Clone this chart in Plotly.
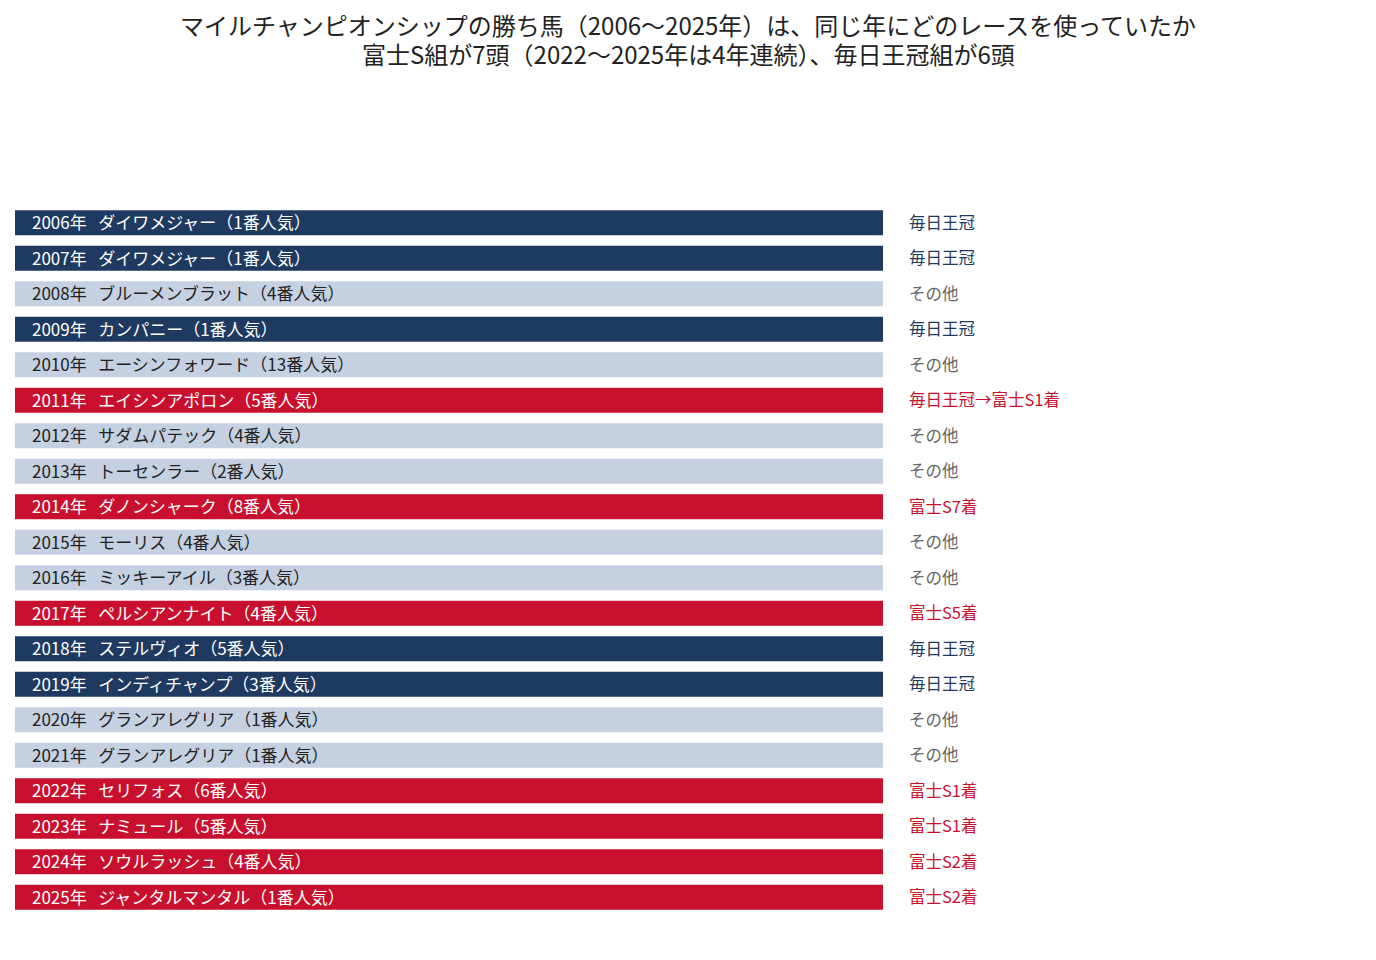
import plotly.graph_objects as go

# ── data ──────────────────────────────────────────────────────────────────────

years = list(range(2006, 2026))
horses = [
    "ダイワメジャー", "ダイワメジャー", "ブルーメンブラット", "カンパニー",
    "エーシンフォワード", "エイシンアポロン", "サダムパテック", "トーセンラー",
    "ダノンシャーク", "モーリス", "ミッキーアイル", "ペルシアンナイト",
    "ステルヴィオ", "インディチャンプ", "グランアレグリア", "グランアレグリア",
    "セリフォス", "ナミュール", "ソウルラッシュ", "ジャンタルマンタル",
]
popularity = [1, 1, 4, 1, 13, 5, 4, 2, 8, 4, 3, 4, 5, 3, 1, 1, 6, 5, 4, 1]
groups = [
    "mainichi", "mainichi", "other", "mainichi", "other", "fuji", "other", "other",
    "fuji", "other", "other", "fuji", "mainichi", "mainichi", "other", "other",
    "fuji", "fuji", "fuji", "fuji",
]
prep_race = [
    "毎日王冠", "毎日王冠", "その他", "毎日王冠", "その他", "毎日王冠→富士S1着",
    "その他", "その他", "富士S7着", "その他", "その他", "富士S5着", "毎日王冠",
    "毎日王冠", "その他", "その他", "富士S1着", "富士S1着", "富士S2着", "富士S2着",
]
bar_value = [1] * len(years)

title_line1 = "マイルチャンピオンシップの勝ち馬（2006〜2025年）は、同じ年にどのレースを使っていたか"
title_line2 = "富士S組が7頭（2022〜2025年は4年連続）、毎日王冠組が6頭"

# ── styles ────────────────────────────────────────────────────────────────────

FONT = "Noto Sans CJK JP"
BAR_COLOR = {"mainichi": "#1f3a60", "other": "#c5d1e0", "fuji": "#c8102e"}
BAR_TEXT = {"mainichi": "white", "other": "#222222", "fuji": "white"}
SIDE_TEXT = {"mainichi": "#1f3a60", "other": "#666666", "fuji": "#c8102e"}

W, H = 1360, 944
M_L, M_R, M_T, M_B = 7, 7, 197, 37
plot_h = H - M_T - M_B

cats = [f"{y}年" for y in years]

fig = go.Figure(
    go.Bar(
        x=bar_value,
        y=cats,
        orientation="h",
        width=0.7,
        marker=dict(color=[BAR_COLOR[g] for g in groups], line=dict(width=0)),
        hoverinfo="skip",
        showlegend=False,
    )
)

for cat, horse, pop, grp, race in zip(cats, horses, popularity, groups, prep_race):
    fig.add_annotation(
        x=0, y=cat, xref="x", yref="y",
        text=f"{cat}\u00a0\u00a0 {horse}（{pop}番人気）",
        xanchor="left", xshift=15, yshift=1, showarrow=False,
        font=dict(family=FONT, size=17, color=BAR_TEXT[grp]),
    )
    fig.add_annotation(
        x=1, y=cat, xref="x", yref="y",
        text=race,
        xanchor="left", xshift=24, yshift=1, showarrow=False,
        font=dict(family=FONT, size=16.5, color=SIDE_TEXT[grp]),
    )

# second title line, placed just under the first
fig.add_annotation(
    x=0.5, y=1 + (M_T - 45) / plot_h, xref="paper", yref="paper",
    text=title_line2, showarrow=False, xanchor="center", yanchor="middle",
    font=dict(family=FONT, size=24, color="#222222"),
)

fig.update_layout(
    width=W,
    height=H,
    paper_bgcolor="white",
    plot_bgcolor="white",
    font=dict(family=FONT),
    title=dict(
        text=title_line1,
        font=dict(family=FONT, size=24, color="#222222"),
        x=0.5, xanchor="center", y=1 - 19 / H, yanchor="middle",
    ),
    margin=dict(l=M_L, r=M_R, t=M_T, b=M_B),
    xaxis=dict(range=[0, (W - M_L - M_R) / 868], visible=False, fixedrange=True),
    yaxis=dict(type="category", autorange="reversed", visible=False, fixedrange=True),
    bargap=0.3,
)

fig.write_html("out.html")
